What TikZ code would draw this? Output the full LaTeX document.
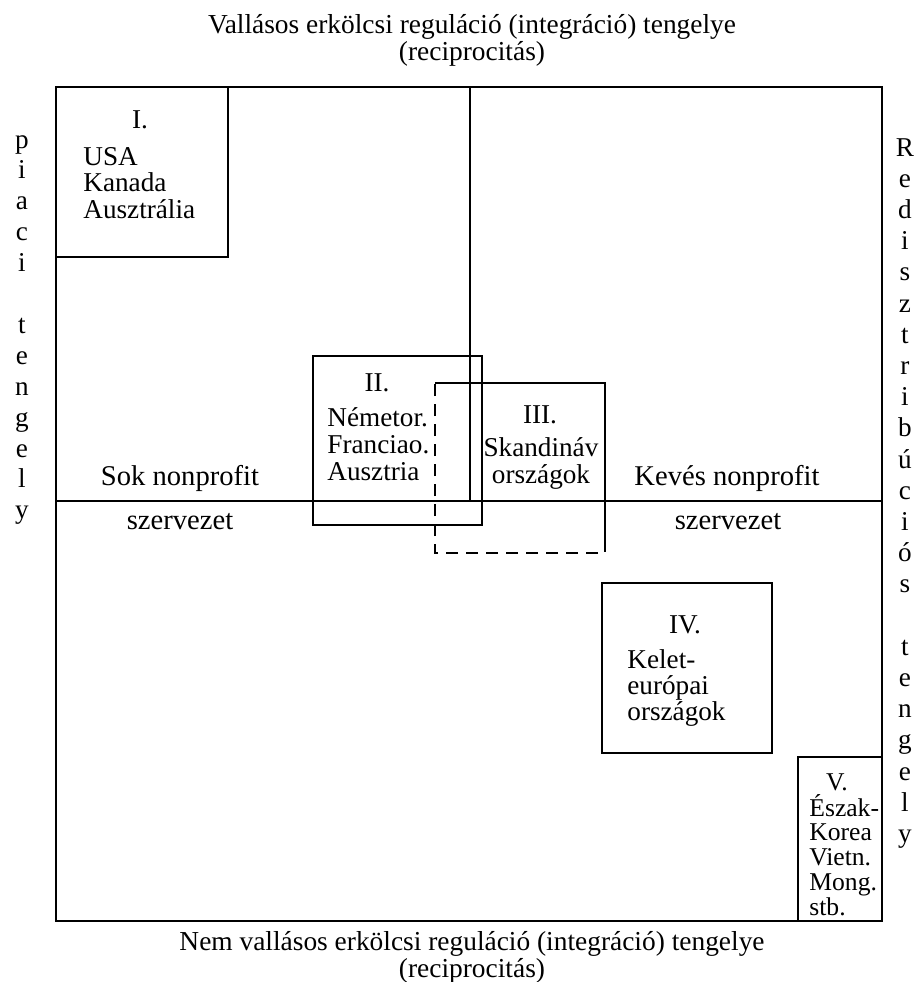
\documentclass[tikz,border=0pt]{standalone}
\usepackage{fontspec}
\setmainfont{Liberation Serif}
\begin{document}
\begin{tikzpicture}[x=0.5pt,y=-0.5pt,
		frame/.style={line width=1pt},
		box/.style={line width=1.2pt},
		dashbox/.style={line width=1.2pt,dash pattern=on 6pt off 4pt},
		txt/.style={font=\fontsize{13.6}{15}\selectfont,inner sep=0pt},
		lab/.style={font=\fontsize{14.3}{16}\selectfont,inner sep=0pt},
		small/.style={font=\fontsize{12.8}{14}\selectfont,inner sep=0pt},
		ttl/.style={font=\fontsize{13.7}{13.6}\selectfont,align=center,inner sep=0pt}]
	\useasboundingbox (0,0) rectangle (919,982);
	\coordinate (nw) at (56,87);
	\coordinate (se) at (882,921);
	\coordinate (top) at (470,87);
	\coordinate (mid) at (470,501);
	\coordinate (west) at (56,501);
	\coordinate (east) at (882,501);
	\draw[frame] (nw) rectangle (se);
	\draw[line width=0.8pt] (west) -- (east);
	\draw[line width=1.3pt] (top) -- (mid);
	\node[ttl] (ttop) at (472,40) {Vallásos erkölcsi reguláció (integráció) tengelye\\(reciprocitás)};
	\node[ttl] (tbot) at (472,957) {Nem vallásos erkölcsi reguláció (integráció) tengelye\\(reciprocitás)};
	\foreach \c [count=\i from 0] in {p,i,a,c,i}
		\node[txt,anchor=base] (pa\i) at (22,{148+30.9*\i}) {\c};
	\foreach \c [count=\i from 6] in {t,e,n,g,e,l,y}
		\node[txt,anchor=base] (pa\i) at (22,{148+30.9*\i}) {\c};
	\foreach \c [count=\i from 0] in {R,e,d,i,s,z,t,r,i,b,ú,c,i,ó,s}
		\node[txt,anchor=base] (re\i) at (905,{156+31.2*\i}) {\c};
	\foreach \c [count=\i from 16] in {t,e,n,g,e,l,y}
		\node[txt,anchor=base] (re\i) at (905,{156+31.2*\i}) {\c};
	\node[lab] (sok) at (180,478) {Sok nonprofit};
	\node[lab] (soksz) at (180,522) {szervezet};
	\node[lab] (keves) at (727,478) {Kevés nonprofit};
	\node[lab] (kevessz) at (728,522) {szervezet};
	\draw[box] (nw) rectangle (228,257);
	\node[txt] (r1) at (140,120) {I.};
	\foreach \t [count=\i from 0] in {USA,Kanada,Ausztrália}
		\node[txt,anchor=base west] (c1\i) at (83,{165+26.5*\i}) {\t};
	\draw[box] (313,356) rectangle (482,525);
	\node[txt] (r2) at (377,383) {II.};
	\foreach \t [count=\i from 0] in {Németor.,Franciao.,Ausztria}
		\node[txt,anchor=base west] (c2\i) at (327,{426+27*\i}) {\t};
	\draw[box] (435,383) -- (605,383) -- (605,540);
	\draw[dashbox] (605,540) -- (605,553) -- (435,553) -- (435,383);
	\node[txt] (r3) at (540,415) {III.};
	\foreach \t [count=\i from 0] in {Skandináv,országok}
		\node[txt,anchor=base] (c3\i) at (541,{456+27*\i}) {\t};
	\draw[box] (602,583) rectangle (772,753);
	\node[txt] (r4) at (685,625) {IV.};
	\foreach \t [count=\i from 0] in {Kelet-,európai,országok}
		\node[txt,anchor=base west] (c4\i) at (627,{668+26*\i}) {\t};
	\draw[box] (798,757) rectangle (se);
	\node[small] (r5) at (837,782) {V.};
	\foreach \t [count=\i from 0] in {Észak-,Korea,Vietn.,Mong.,stb.}
		\node[small,anchor=base west] (c5\i) at (809,{816+24.8*\i}) {\t};
\end{tikzpicture}
\end{document}
